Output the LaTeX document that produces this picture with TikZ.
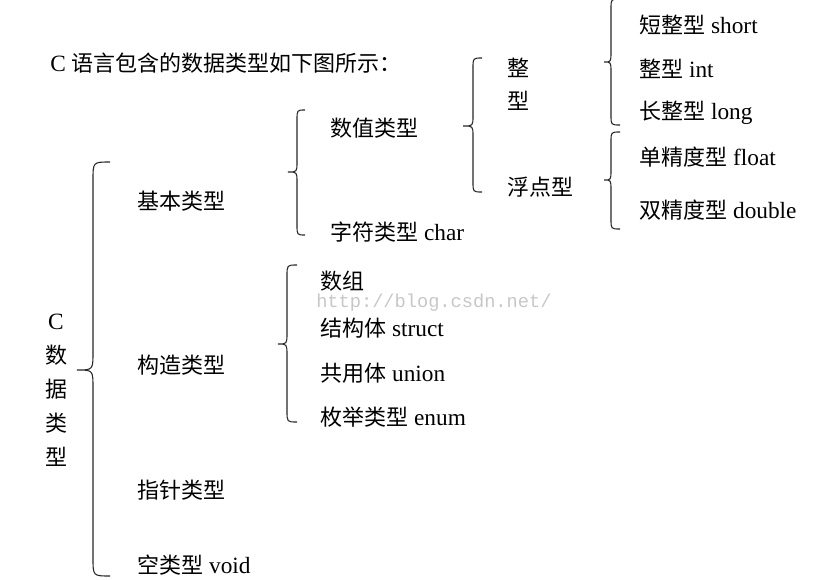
\documentclass[tikz,border=0pt]{standalone}
\usepackage{fontspec}
\setmainfont[Scale=1.06]{Liberation Serif}
\newfontfamily\cjk{Noto Sans CJK SC}
\newfontfamily\wmfont{Liberation Mono}
\newcommand{\zh}[1]{{\cjk #1}}
\tikzset{
  lbl/.style={anchor=west, inner sep=0pt, font=\fontsize{16.5}{20}\selectfont},
  brc/.style={draw=black!85, line width=0.8pt},
  wmark/.style={anchor=west, inner sep=0pt, text=black!22, font=\wmfont\fontsize{14}{16}\selectfont}
}
\begin{document}
\begin{tikzpicture}[x=0.75pt,y=-0.75pt]
\useasboundingbox (0,0) rectangle (825,579);
% header
\node[lbl] (hdr) at (50,63) {C \zh{语言包含的数据类型如下图所示：}};
% root
\node[lbl, anchor=center, align=center, font=\fontsize{16.5}{25.5}\selectfont] (root) at (56,390) {C\\\zh{数}\\\zh{据}\\\zh{类}\\\zh{型}};
% level 1
\node[lbl] (basic) at (137,201) {\zh{基本类型}};
\node[lbl] (cons) at (137,365) {\zh{构造类型}};
\node[lbl] (ptr) at (137,490) {\zh{指针类型}};
\node[lbl] (void) at (137,565) {\zh{空类型} void};
% level 2 basic
\node[lbl] (num) at (330,128) {\zh{数值类型}};
\node[lbl] (chr) at (330,232) {\zh{字符类型} char};
% level 3
\node[lbl] (intA) at (507,68) {\zh{整}};
\node[lbl] (intB) at (507,101) {\zh{型}};
\node[lbl] (flt) at (507,187) {\zh{浮点型}};
% level 4
\node[lbl] (short) at (639,25) {\zh{短整型} short};
\node[lbl] (intt) at (639,69) {\zh{整型} int};
\node[lbl] (long) at (639,113) {\zh{长整型} long};
\node[lbl] (float) at (639,157) {\zh{单精度型} float};
\node[lbl] (double) at (639,210) {\zh{双精度型} double};
% constructed
\node[lbl] (arr) at (320,281) {\zh{数组}};
\node[lbl] (st) at (320,328) {\zh{结构体} struct};
\node[lbl] (un) at (320,373) {\zh{共用体} union};
\node[lbl] (en) at (320,417) {\zh{枚举类型} enum};
% watermark
\node[wmark] (wm) at (316,303) {http://blog.csdn.net/};
% braces
\draw[brc] (110,162) .. controls (93,162) .. (93,180) -- (93,352) .. controls (93,370) .. (77,370) .. controls (93,370) .. (93,388) -- (93,558) .. controls (93,576) .. (110,576);
\draw[brc] (305,110) .. controls (297,110) .. (297,120) -- (297,162) .. controls (297,172) .. (288,172) .. controls (297,172) .. (297,182) -- (297,225) .. controls (297,235) .. (305,235);
\draw[brc] (482,58) .. controls (473,58) .. (473,68) -- (473,116) .. controls (473,126) .. (463,126) .. controls (473,126) .. (473,136) -- (473,182) .. controls (473,192) .. (482,192);
\draw[brc] (620,-1) .. controls (611,-1) .. (611,9) -- (611,52) .. controls (611,62) .. (604,62) .. controls (611,62) .. (611,72) -- (611,115) .. controls (611,125) .. (620,125);
\draw[brc] (620,132) .. controls (611,132) .. (611,142) -- (611,170) .. controls (611,180) .. (604,180) .. controls (611,180) .. (611,190) -- (611,219) .. controls (611,229) .. (620,229);
\draw[brc] (297,265) .. controls (287,265) .. (287,276) -- (287,333) .. controls (287,344) .. (278,344) .. controls (287,344) .. (287,355) -- (287,411) .. controls (287,422) .. (297,422);
\end{tikzpicture}
\end{document}
